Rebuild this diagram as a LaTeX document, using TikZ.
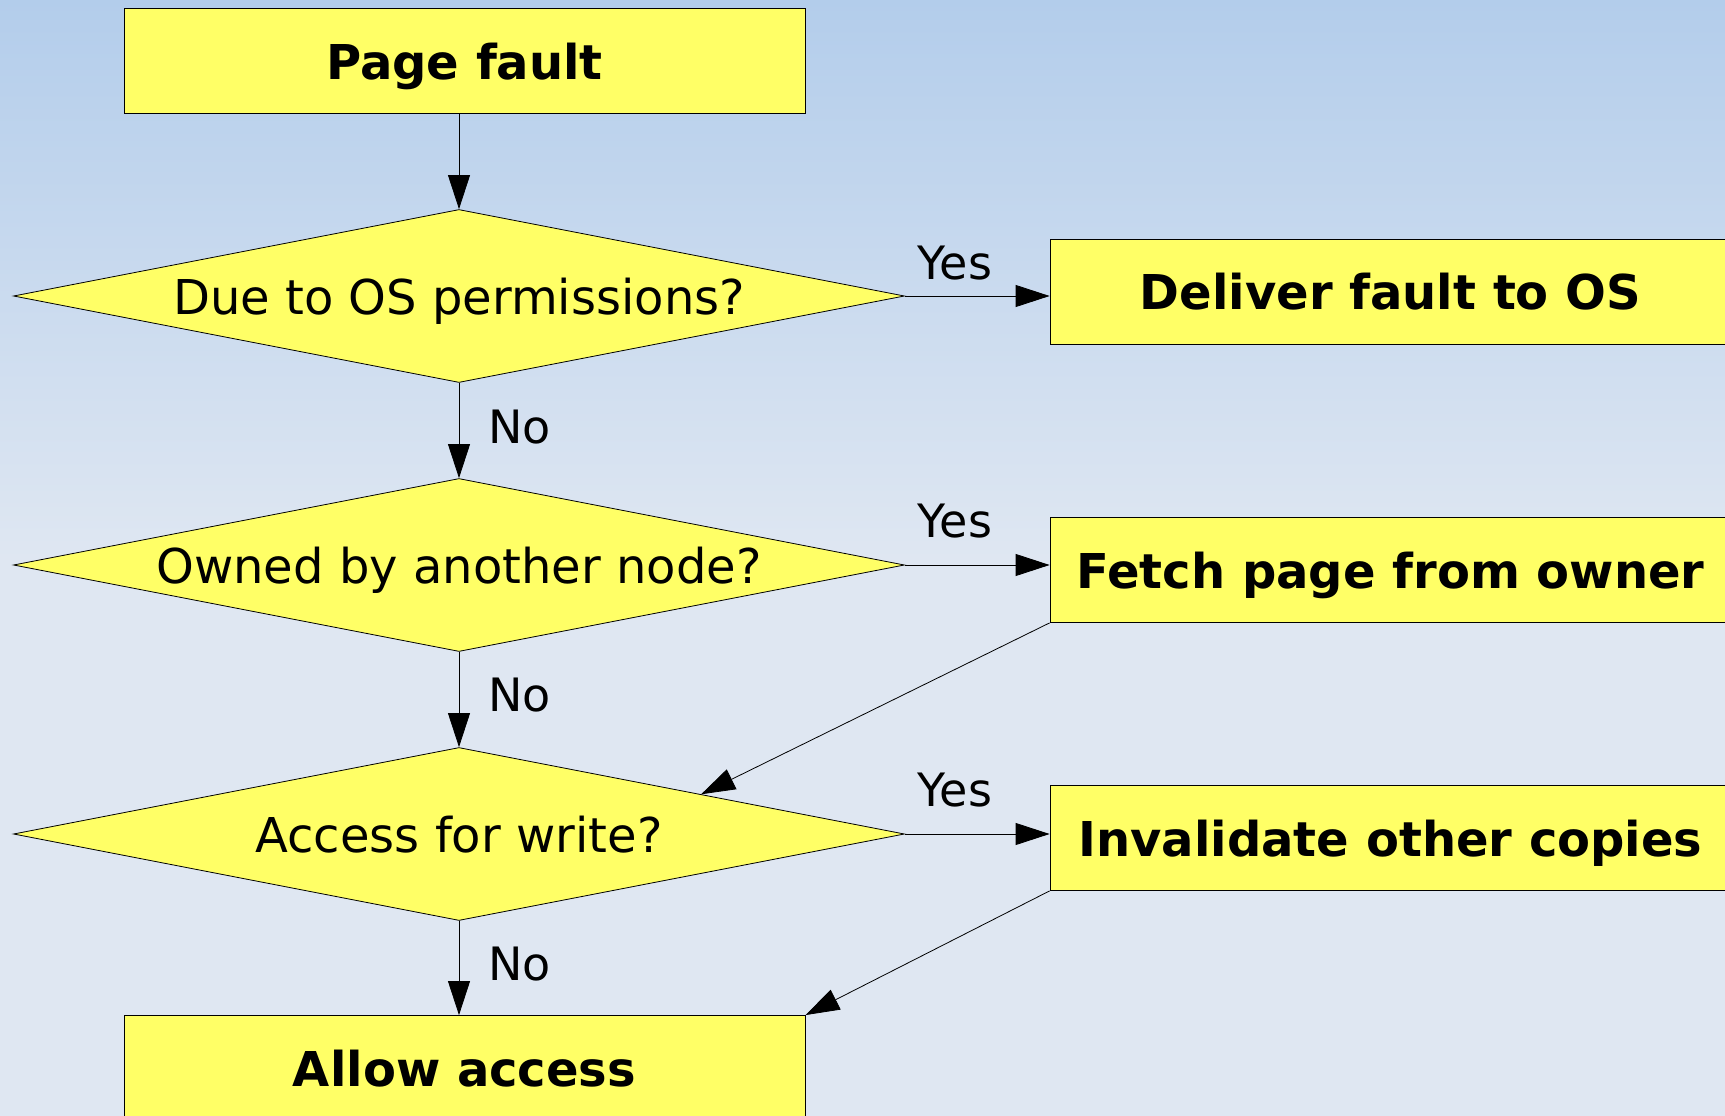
\documentclass[tikz,border=0pt]{standalone}
\usepackage{fontspec}
\setmainfont{DejaVu Sans}
\usetikzlibrary{shapes.geometric,arrows.meta,calc}
\definecolor{boxyellow}{HTML}{FFFF66}
\definecolor{bgtop}{HTML}{B3CDEB}
\definecolor{bgbot}{HTML}{DFE7F2}
\begin{document}
\begin{tikzpicture}[x=1pt,y=-1pt,
  box/.style={draw=black, fill=boxyellow, line width=0.8pt, minimum width=681pt, minimum height=105pt, inner sep=0pt, text depth=0pt, font=\fontsize{48}{54}\selectfont\bfseries},
  decision/.style={diamond, draw=black, fill=boxyellow, line width=0.8pt, minimum width=891pt, minimum height=173pt, inner sep=0pt, text depth=0pt, aspect=5.15, font=\fontsize{48}{54}\selectfont},
  lbl/.style={font=\fontsize{46}{52}\selectfont, inner sep=0pt},
  flow/.style={line width=0.8pt, -{Triangle[length=34pt,width=22pt]}}
]
\useasboundingbox (0,0) rectangle (1725,1116);
\clip (0,0) rectangle (1725,1116);
\shade[top color=bgtop, bottom color=bgbot] (0,0) rectangle (1725,560);
\fill[bgbot] (0,559) rectangle (1725,1116);

\node[box] (pf) at (464.5,61) {Page fault};
\node[decision] (d1) at (459,296) {Due to OS permissions?};
\node[box] (deliver) at (1390.5,291.5) {Deliver fault to OS};
\node[decision] (d2) at (459,565) {Owned by another node?};
\node[box] (fetch) at (1390.5,570) {Fetch page from owner};
\node[decision] (d3) at (459,834) {Access for write?};
\node[box] (inval) at (1390.5,838) {Invalidate other copies};
\node[box] (allow) at (464.5,1068) {Allow access};

\coordinate (d3ne) at ($(d3.north)!0.543!(d3.east)$);

\draw[flow] (pf.south -| d1.north) -- (d1.north);
\draw[flow] (d1.south) -- (d2.north);
\draw[flow] (d2.south) -- (d3.north);
\draw[flow] (d3.south) -- (d3.south |- allow.north);
\draw[flow] (d1.east) -- (d1.east -| deliver.west);
\draw[flow] (d2.east) -- (d2.east -| fetch.west);
\draw[flow] (d3.east) -- (d3.east -| inval.west);
\draw[flow] (fetch.south west) -- (d3ne);
\draw[flow] (inval.south west) -- (allow.north east);

\node[lbl] (y1) at (955,263) {Yes};
\node[lbl] (y2) at (955,521) {Yes};
\node[lbl] (y3) at (955,790) {Yes};
\node[lbl, anchor=west] (n1) at (488,427) {No};
\node[lbl, anchor=west] (n2) at (488,695) {No};
\node[lbl, anchor=west] (n3) at (488,964) {No};
\end{tikzpicture}
\end{document}
